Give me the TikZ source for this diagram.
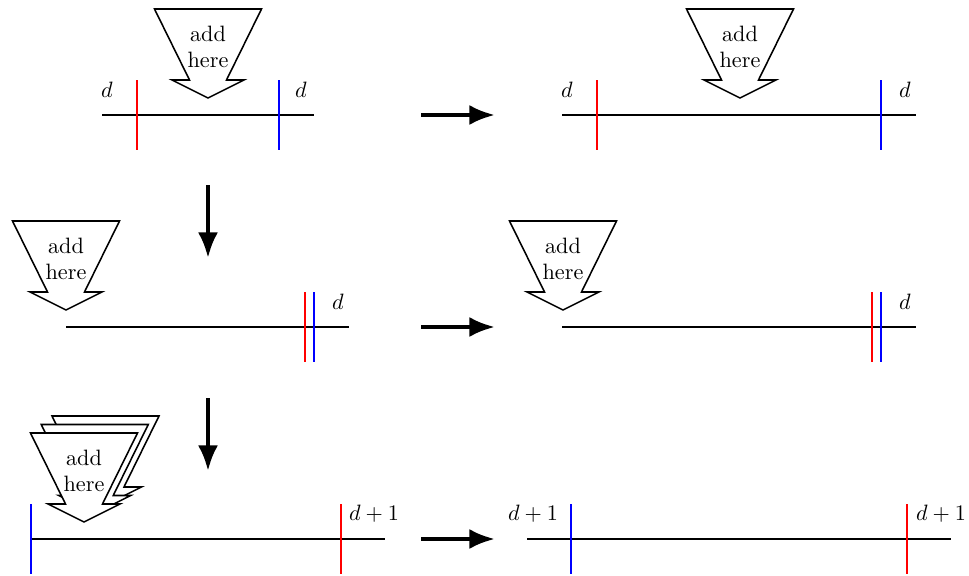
\documentclass[tikz,border=0pt]{standalone}
\usetikzlibrary{arrows.meta}
\begin{document}
\begin{tikzpicture}[x=0.45pt,y=-0.45pt,
  axis/.style={line width=1pt},
  redtick/.style={red,line width=0.9pt},
  bluetick/.style={blue,line width=0.9pt},
  flow/.style={line width=1.9pt,-{Latex[length=11.5pt,width=9pt]}},
  lbl/.style={inner sep=0pt},
  addshape/.style={draw,line width=0.7pt,fill=white,line join=miter},
  addarrow/.pic={
    \draw[addshape] (-53.5,-89) -- (53.5,-89) -- (18.5,-18) -- (36,-18)
      -- (0,0) -- (-36,-18) -- (-18.5,-18) -- cycle;
    \node[align=center,inner sep=0pt] (-txt) at (0,-51) {add\\here};
  },
  addblank/.pic={
    \draw[addshape] (-53.5,-89) -- (53.5,-89) -- (18.5,-18) -- (36,-18)
      -- (0,0) -- (-36,-18) -- (-18.5,-18) -- cycle;
  }]
\useasboundingbox (0,0) rectangle (969,576);

% ---- row 1, left panel
\draw[axis] (102,115) -- (314,115);
\draw[redtick] (137,80) -- (137,150);
\draw[bluetick] (279,80) -- (279,150);
\node[lbl] (d1a) at (107,90) {$d$};
\node[lbl] (d1b) at (301,90) {$d$};
\pic (p1) at (208,98) {addarrow};

% ---- row 1, right panel
\draw[axis] (562,115) -- (916,115);
\draw[redtick] (597,80) -- (597,150);
\draw[bluetick] (881,80) -- (881,150);
\node[lbl] (d1c) at (567,90) {$d$};
\node[lbl] (d1d) at (905,90) {$d$};
\pic (p2) at (740,98) {addarrow};

% ---- row 2, left panel
\draw[axis] (66,327) -- (349,327);
\draw[redtick] (305,292) -- (305,362);
\draw[bluetick] (314,292) -- (314,362);
\node[lbl] (d2a) at (338,302) {$d$};
\pic (p3) at (66,310) {addarrow};

% ---- row 2, right panel
\draw[axis] (562,327) -- (916,327);
\draw[redtick] (872,292) -- (872,362);
\draw[bluetick] (881,292) -- (881,362);
\node[lbl] (d2b) at (905,302) {$d$};
\pic (p4) at (563,310) {addarrow};

% ---- row 3, left panel
\draw[axis] (31,539) -- (385,539);
\draw[bluetick] (31,504) -- (31,574);
\draw[redtick] (341,504) -- (341,574);
\node[lbl] (d3a) at (374,514) {$d+1$};
\pic (p5c) at (105.5,505) {addblank};
\pic (p5b) at (94.75,513.5) {addblank};
\pic (p5) at (84,522) {addarrow};

% ---- row 3, right panel
\draw[axis] (527,539) -- (951,539);
\draw[bluetick] (571,504) -- (571,574);
\draw[redtick] (907,504) -- (907,574);
\node[lbl] (d3b) at (533,514) {$d+1$};
\node[lbl] (d3c) at (941,514) {$d+1$};

% ---- transitions
\coordinate (h1s) at (421,115); \coordinate (h1e) at (495,115);
\coordinate (h2s) at (421,327); \coordinate (h2e) at (495,327);
\coordinate (h3s) at (421,539); \coordinate (h3e) at (495,539);
\coordinate (v1s) at (208,185); \coordinate (v1e) at (208,258);
\coordinate (v2s) at (208,398); \coordinate (v2e) at (208,471);
\draw[flow] (h1s) -- (h1e);
\draw[flow] (h2s) -- (h2e);
\draw[flow] (h3s) -- (h3e);
\draw[flow] (v1s) -- (v1e);
\draw[flow] (v2s) -- (v2e);
\end{tikzpicture}
\end{document}
